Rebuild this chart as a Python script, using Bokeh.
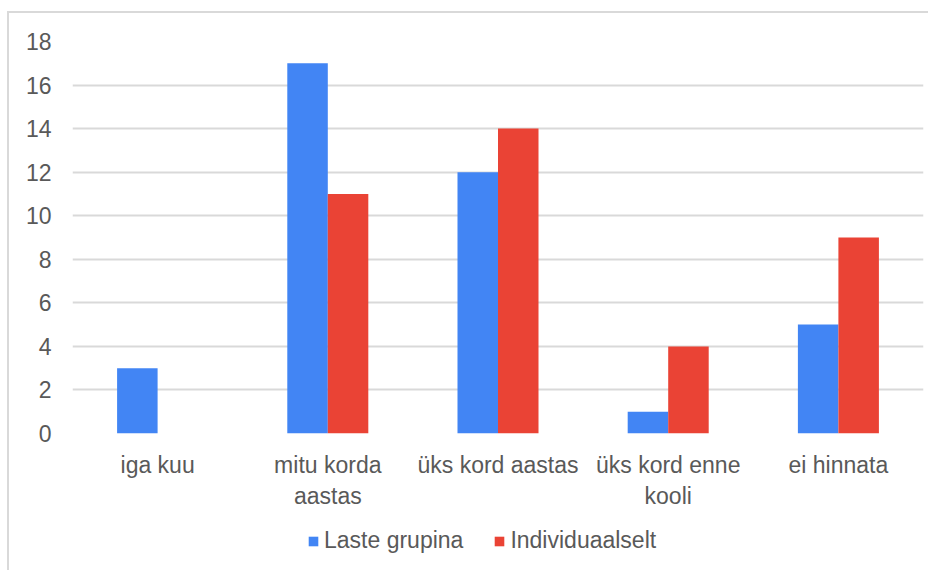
from bokeh.plotting import figure
from bokeh.models import ColumnDataSource, FactorRange, Range1d, Legend, LegendItem, FixedTicker
from bokeh.layouts import column
from bokeh.transform import dodge
from bokeh.embed import file_html
from bokeh.resources import INLINE

categories = ["iga kuu", "mitu korda\naastas", "üks kord aastas", "üks kord enne\nkooli", "ei hinnata"]
series_names = ["Laste grupina", "Individuaalselt"]
laste_grupina = [3, 17, 12, 1, 5]
individuaalselt = [0, 11, 14, 4, 9]
y_ticks = [0, 2, 4, 6, 8, 10, 12, 14, 16, 18]

FONT = "Liberation Sans"
FS = "23px"
TXT = "#595959"
BLUE = "#4285F4"
RED = "#EA4335"
GRID = "#d9d9d9"

src = ColumnDataSource(dict(cat=categories, a=laste_grupina, b=individuaalselt))

p = figure(x_range=FactorRange(*categories, range_padding=0), y_range=Range1d(0, 18),
           frame_width=851, frame_height=392, output_backend="svg", toolbar_location=None,
           min_border_left=63, min_border_right=5, min_border_top=28, min_border_bottom=80)
p.outline_line_color = None

bw = 0.238
p.vbar(x=dodge("cat", -bw / 2, range=p.x_range), top="a", width=bw, source=src,
       fill_color=BLUE, line_color=None)
p.vbar(x=dodge("cat", bw / 2, range=p.x_range), top="b", width=bw, source=src,
       fill_color=RED, line_color=None)

p.xgrid.grid_line_color = None
p.ygrid.grid_line_color = GRID
p.ygrid.grid_line_width = 2
p.yaxis.ticker = FixedTicker(ticks=y_ticks)

for ax in (p.xaxis[0], p.yaxis[0]):
    ax.axis_line_color = None
    ax.major_tick_line_color = None
    ax.minor_tick_line_color = None
    ax.major_tick_out = 0
    ax.minor_tick_out = 0
    ax.major_label_text_font = FONT
    ax.major_label_text_font_size = FS
    ax.major_label_text_color = TXT
p.yaxis.major_label_standoff = 21
p.xaxis.major_label_standoff = 18

# legend strip below the chart (its key renderers lie outside its visible range)
lg = figure(width=919, height=57, output_backend="svg", toolbar_location=None,
            x_range=FactorRange(*categories), y_range=Range1d(1000, 1001),
            x_axis_location=None, y_axis_location=None, min_border=0)
lg.grid.visible = False
lg.outline_line_color = None
k1 = lg.vbar(x="cat", top="a", width=0.1, source=src, fill_color=BLUE, line_color=None)
k2 = lg.vbar(x="cat", top="b", width=0.1, source=src, fill_color=RED, line_color=None)
legend = Legend(items=[LegendItem(label=series_names[0], renderers=[k1]),
                       LegendItem(label=series_names[1], renderers=[k2])],
                orientation="horizontal", location=(235, 16),
                label_text_font=FONT, label_text_font_size=FS, label_text_color=TXT,
                glyph_width=12, glyph_height=12, label_standoff=5, spacing=30,
                border_line_color=None, background_fill_alpha=0, padding=4, margin=0)
lg.add_layout(legend, "center")

layout = column(p, lg, spacing=0,
                styles={"margin-left": "7px", "margin-top": "11px",
                        "border-left": "2px solid #d9d9d9", "border-top": "2px solid #d9d9d9"})

open("out.html", "w").write(file_html(layout, INLINE))
